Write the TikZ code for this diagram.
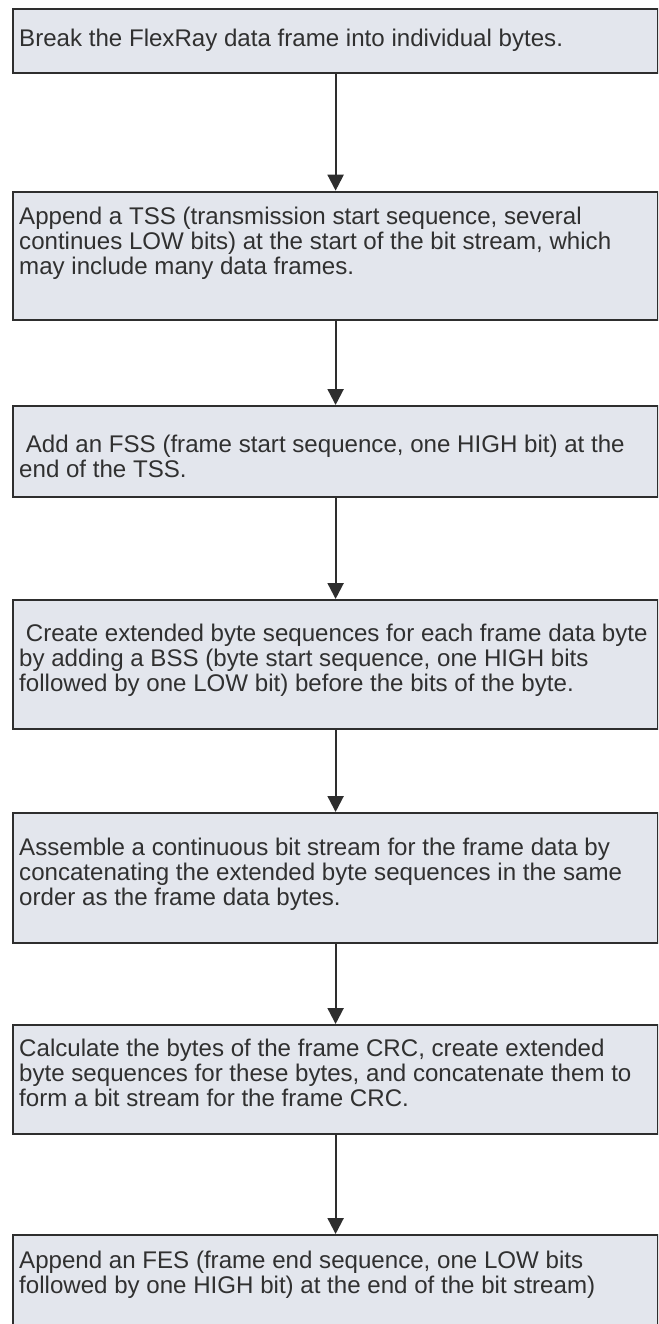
\documentclass[tikz,border=0pt]{standalone}
\usepackage{fontspec}
\setmainfont{Liberation Sans}
\usetikzlibrary{arrows.meta}
\definecolor{boxfill}{HTML}{E3E6ED}
\definecolor{ink}{HTML}{2E2E2E}
\definecolor{txt}{HTML}{303030}
\begin{document}
\begin{tikzpicture}[x=1pt,y=-1pt,
  stepbox/.style={rectangle, draw=ink, line width=2.2pt, fill=boxfill,
    inner sep=0pt, minimum width=645pt, anchor=north west},
  steptext/.style={anchor=north west, inner sep=0pt, align=left, text=txt,
    font=\fontsize{24.1pt}{25pt}\selectfont},
  flow/.style={draw=ink, line width=2.2pt, -{Triangle[width=16pt,length=16pt]}}]
\useasboundingbox (0,0) rectangle (658,1324);
\clip (0,0) rectangle (658,1324);
\newcommand\fs{\rule{0pt}{18pt}}

% process steps
\node[stepbox, minimum height=64pt]  (b1) at (12,8.3)   {};
\node[stepbox, minimum height=128pt] (b2) at (12,190.7) {};
\node[stepbox, minimum height=91pt]  (b3) at (12,405)   {};
\node[stepbox, minimum height=129pt] (b4) at (12,599)   {};
\node[stepbox, minimum height=130pt] (b5) at (12,812)   {};
\node[stepbox, minimum height=109pt] (b6) at (12,1024)  {};
\node[stepbox, minimum height=120pt] (b7) at (12,1234)  {};

% step descriptions
\node[steptext] (t1) at (19,28.7) {\fs Break the FlexRay data frame into individual bytes.};
\node[steptext] (t2) at (19,206.3) {\fs Append a TSS (transmission start sequence, several\\
  continues LOW bits) at the start of the bit stream, which\\
  may include many data frames.};
\node[steptext] (t3) at (19,434) {\fs\hspace*{6.7pt}Add an FSS (frame start sequence, one HIGH bit) at the\\
  end of the TSS.};
\node[steptext] (t4) at (19,623.7) {\fs\hspace*{6.7pt}Create extended byte sequences for each frame data byte\\
  by adding a BSS (byte start sequence, one HIGH bits\\
  followed by one LOW bit) before the bits of the byte.};
\node[steptext] (t5) at (19,837) {\fs Assemble a continuous bit stream for the frame data by\\
  concatenating the extended byte sequences in the same\\
  order as the frame data bytes.};
\node[steptext] (t6) at (19,1038) {\fs Calculate the bytes of the frame CRC, create extended\\
  byte sequences for these bytes, and concatenate them to\\
  form a bit stream for the frame CRC.};
\node[steptext] (t7) at (19,1250) {\fs Append an FES (frame end sequence, one LOW bits\\
  followed by one HIGH bit) at the end of the bit stream)};

% flow between steps
\draw[flow] (b1.south) -- (b2.north);
\draw[flow] (b2.south) -- (b3.north);
\draw[flow] (b3.south) -- (b4.north);
\draw[flow] (b4.south) -- (b5.north);
\draw[flow] (b5.south) -- (b6.north);
\draw[flow] (b6.south) -- (b7.north);
\end{tikzpicture}
\end{document}
